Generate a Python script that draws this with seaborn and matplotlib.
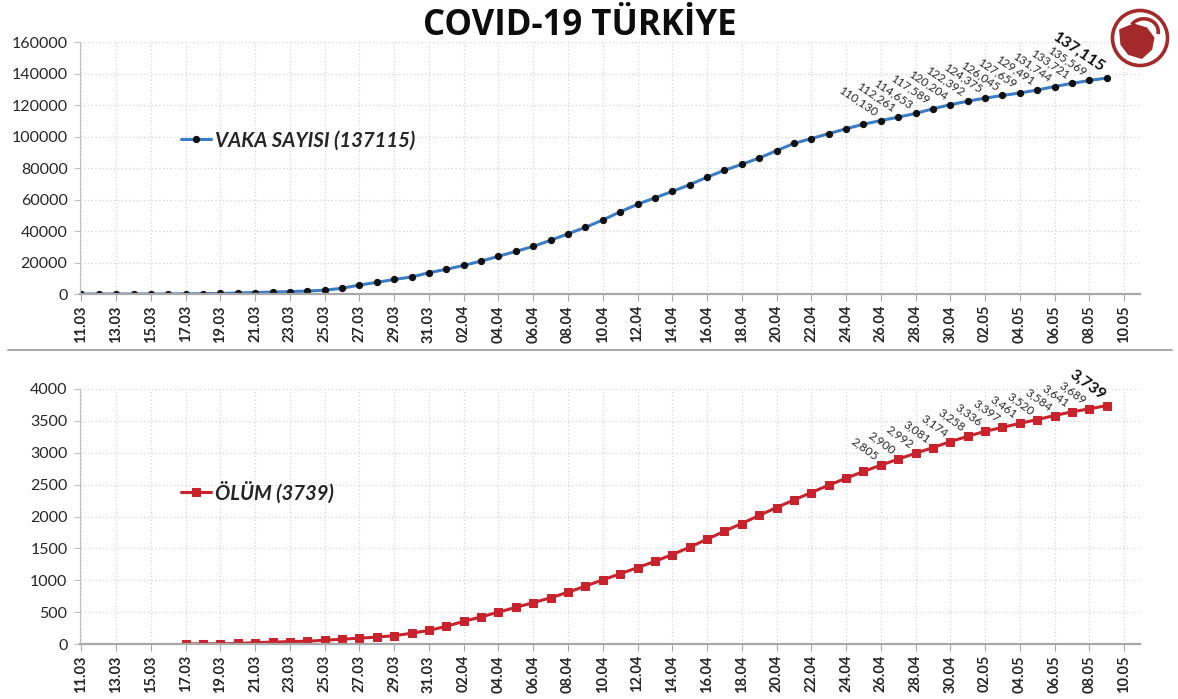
import matplotlib.pyplot as plt
import matplotlib.dates as mdates
import numpy as np
import pandas as pd
import seaborn as sns
from matplotlib.lines import Line2D
from matplotlib.patches import Circle, Polygon, Arc

# cumulative cases, 11.03 .. 09.05
case_dates = pd.date_range("2020-03-11", "2020-05-09", freq="D")
cases = [1, 1, 5, 6, 18, 47, 98, 191, 359, 670, 947, 1236, 1529, 1872, 2433,
         3629, 5698, 7402, 9217, 10827, 13531, 15679, 18135, 20921, 23934,
         27069, 30217, 34109, 38226, 42282, 47029, 52167, 56956, 61049, 65111,
         69392, 74193, 78546, 82329, 86306, 90980, 95591, 98674, 101790, 104912,
         107773, 110130, 112261, 114653, 117589, 120204, 122392, 124375, 126045,
         127659, 129491, 131744, 133721, 135569, 137115]

# cumulative deaths, 17.03 .. 09.05
death_dates = pd.date_range("2020-03-17", "2020-05-09", freq="D")
deaths = [1, 2, 3, 9, 21, 30, 37, 44, 59, 75, 92, 108, 131, 168, 214, 277, 356,
          425, 501, 574, 649, 725, 812, 908, 1006, 1101, 1198, 1296, 1403, 1518,
          1643, 1769, 1890, 2017, 2140, 2259, 2376, 2491, 2600, 2706, 2805, 2900,
          2992, 3081, 3174, 3258, 3336, 3397, 3461, 3520, 3584, 3641, 3689, 3739]

label_from = pd.Timestamp("2020-04-26")  # values are written from this day on
tick_dates = pd.date_range("2020-03-11", "2020-05-10", freq="2D")

BLUE = "#3b7cc6"
RED = "#c8232c"
TXT = "#262626"

sns.set_style("white")
plt.rcParams["font.family"] = ["Lato", "DejaVu Sans"]

fig = plt.figure(figsize=(11.78, 6.99), dpi=100)
ax1 = fig.add_axes([80 / 1178, 1 - 294 / 699, 1060 / 1178, 252 / 699])
ax2 = fig.add_axes([80 / 1178, 1 - 644 / 699, 1060 / 1178, 255 / 699])

case_df = pd.DataFrame({"date": case_dates, "value": cases})
death_df = pd.DataFrame({"date": death_dates, "value": deaths})

sns.lineplot(data=case_df, x="date", y="value", ax=ax1, color=BLUE, linewidth=2.2,
             marker="o", markersize=4.5, markerfacecolor="#111111",
             markeredgecolor="#111111", label="VAKA SAYISI (137115)")
sns.lineplot(data=death_df, x="date", y="value", ax=ax2, color=RED, linewidth=2.2,
             marker="s", markersize=5.5, markerfacecolor=RED,
             markeredgecolor=RED, label="ÖLÜM (3739)")


def style_axis(ax, ymax, ystep):
    ax.set_xlim(case_dates[0] - pd.Timedelta(hours=2), pd.Timestamp("2020-05-10 22:00"))
    ax.set_ylim(0, ymax)
    ax.set_yticks(np.arange(0, ymax + 1, ystep))
    ax.set_xticks(tick_dates)
    ax.xaxis.set_major_formatter(mdates.DateFormatter("%d.%m"))
    ax.set_xlabel("")
    ax.set_ylabel("")
    ax.grid(True, color="#d4d4d4", linestyle=(0, (1, 2)), linewidth=0.9)
    ax.set_axisbelow(True)
    for s in ["top", "right"]:
        ax.spines[s].set_visible(False)
    ax.spines["left"].set_color("#c0c0c0")
    ax.spines["bottom"].set_color("#a8a8a8")
    ax.spines["bottom"].set_linewidth(1.6)
    ax.tick_params(axis="x", rotation=90, labelsize=10.5, labelcolor=TXT,
                   length=5, color="#a8a8a8", direction="out", bottom=True, pad=3)
    ax.tick_params(axis="y", labelsize=11.5, labelcolor=TXT, length=4,
                   color="#c0c0c0", direction="out", left=True, pad=5)
    for lbl in ax.get_xticklabels():
        lbl.set_fontweight("bold")


style_axis(ax1, 160000, 20000)
style_axis(ax2, 4000, 500)

legend_font = dict(family=["Lato", "DejaVu Sans"], weight="bold", style="italic", size=14.6)
ax1.legend(loc="center left", bbox_to_anchor=(0.078, 0.61), frameon=False,
           handlelength=1.5, handletextpad=0.2, prop=legend_font)
ax2.legend(loc="center left", bbox_to_anchor=(0.078, 0.595), frameon=False,
           handlelength=1.5, handletextpad=0.2, prop=legend_font)


def label_points(ax, df, angle):
    sub = df[df["date"] >= label_from]
    last = sub["date"].iloc[-1]
    for d, v in zip(sub["date"], sub["value"]):
        is_last = d == last
        ax.annotate(f"{v:,}", (d, v), xytext=(-5, 2), textcoords="offset points",
                    rotation=angle, rotation_mode="anchor", ha="right", va="bottom",
                    fontsize=11.5 if is_last else 8.6,
                    fontweight="bold" if is_last else "normal",
                    color="#111111" if is_last else "#2a2a2a",
                    annotation_clip=False)


label_points(ax1, case_df, -34)
label_points(ax2, death_df, -36)

fig.text(580 / 1178, 1 - 26 / 699, "COVID-19 TÜRKİYE", ha="center", va="center",
         fontsize=25, fontweight="bold", family=["Open Sans", "DejaVu Sans"], color="#0d0d0d")

# separator between the two panels
fig.add_artist(Line2D([8 / 1178, 1172 / 1178], [1 - 350 / 699] * 2,
                      transform=fig.transFigure, color="#a8a8a8", linewidth=1.4))

# logo, top right
logo = fig.add_axes([1108 / 1178, 1 - 70 / 699, 64 / 1178, 64 / 699])
logo.set_xlim(-1, 1)
logo.set_ylim(-1, 1)
logo.set_aspect("equal")
logo.axis("off")
logo.add_patch(Circle((0, 0), 0.86, facecolor="white", edgecolor="#a3292b", linewidth=2.6))
blob = [(-0.62, 0.25), (-0.2, 0.42), (0.2, 0.3), (0.42, 0.0), (0.35, -0.35),
        (0.05, -0.62), (-0.35, -0.5), (-0.58, -0.2)]
logo.add_patch(Polygon(blob, closed=True, facecolor="#a3292b", edgecolor="#a3292b",
                       linewidth=1.5, joinstyle="round"))
logo.add_patch(Arc((0.12, 0.2), 0.9, 0.8, theta1=-10, theta2=150, color="#a3292b", linewidth=2.6))

fig.savefig("out.png", dpi=100)
